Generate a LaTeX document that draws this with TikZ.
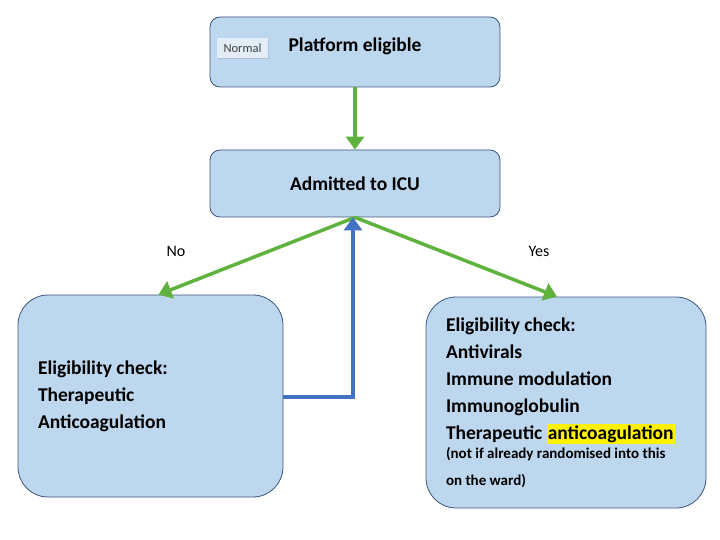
\documentclass[tikz,border=0pt]{standalone}
\usepackage{fontspec}
\setmainfont{Carlito}
\usetikzlibrary{arrows.meta,shadows}
\definecolor{boxfill}{RGB}{189,215,238}
\definecolor{boxline}{RGB}{60,85,125}
\definecolor{flowgreen}{RGB}{95,178,62}
\definecolor{flowblue}{RGB}{68,114,196}
\definecolor{tagfill}{RGB}{226,237,247}
\setlength{\fboxsep}{1pt}

\begin{document}
\begin{tikzpicture}[
  x=1pt, y=-1pt,
  font=\fontsize{19.5}{27}\selectfont\bfseries,
  box/.style={draw=boxline, line width=0.8pt, fill=boxfill, rounded corners=10pt, inner sep=0pt},
  bigbox/.style={box, rounded corners=30pt, align=flush left, inner xsep=20pt},
  tag/.style={fill=tagfill, inner sep=3pt, minimum width=51pt, minimum height=20pt,
    font=\fontsize{12.5}{14}\selectfont\mdseries, text=black!75, drop shadow={opacity=0.25, shadow xshift=1pt, shadow yshift=-1pt}},
  yesno/.style={font=\fontsize{16}{18}\selectfont\mdseries},
  greenflow/.style={-{Triangle[length=13pt, width=18pt]}, draw=flowgreen, line width=3.5pt},
  blueflow/.style={-{Triangle[length=13pt, width=18pt]}, draw=flowblue, line width=3.5pt}
]
  \useasboundingbox (0,0) rectangle (720,540);

  % the two stages at the top
  \node[box, minimum width=290pt, minimum height=70pt] (platform) at (355,52) {};
  \node (platformtext) at (355,46) {Platform eligible};
  \node[tag] (normal) at (242.5,48) {Normal};

  \node[box, minimum width=290pt, minimum height=67pt] (admit) at (355,183.5) {Admitted to ICU};

  % the two outcomes
  \node[bigbox, minimum width=265pt, minimum height=202pt, text width=225pt] (ward) at (150.5,396)
    {Eligibility check:\\Therapeutic\\Anticoagulation};
  \node[bigbox, minimum width=278pt, minimum height=211pt, text width=240pt] (icu) at (566,402.5)
    {Eligibility check:\\Antivirals\\Immune modulation\\Immunoglobulin\\Therapeutic \colorbox{yellow}{anticoagulation}\\[-3pt]
     {\fontsize{15}{22}\selectfont (not if already randomised into this\\on the ward)}};

  \node[yesno] (no) at (176,251) {No};
  \node[yesno] (yes) at (539,251) {Yes};

  \draw[greenflow] (platform.south) -- (admit.north);
  \draw[greenflow] (admit.south) -- ([xshift=8pt]ward.north);
  \draw[greenflow] (admit.south) -- ([xshift=-9pt]icu.north);
  \draw[blueflow] ([yshift=-1pt]ward.east) -| ([xshift=-2pt]admit.south);
\end{tikzpicture}
\end{document}
